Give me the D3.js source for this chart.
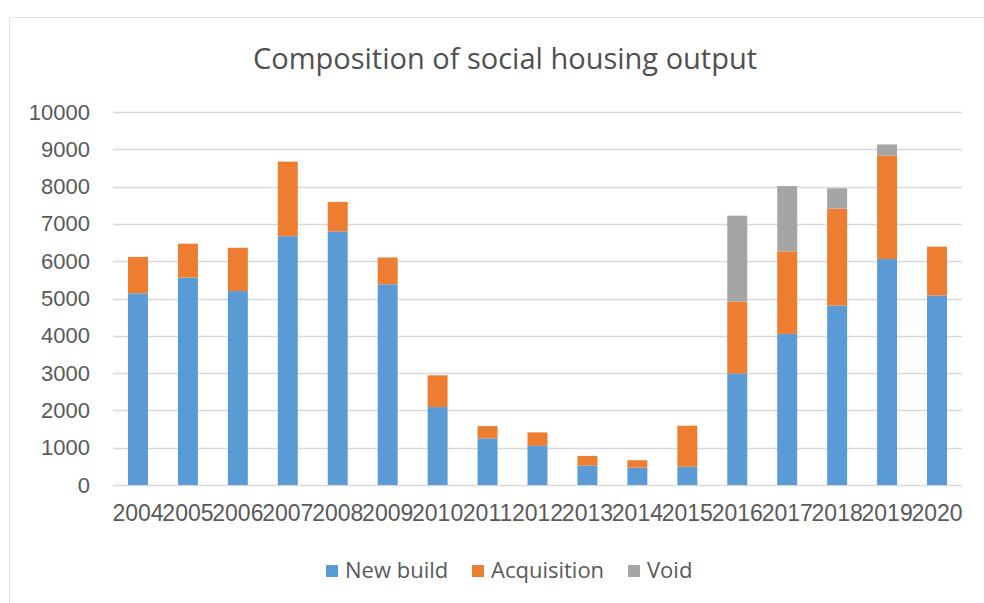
<!doctype html>
<meta charset="utf8">
<style>
  body { margin: 0; background: #fff; }
  svg { display: block; font-family: "Open Sans", sans-serif; }
  .tick text { fill: #595959; }
</style>
<body>
<div id="chart"></div>

<script src="https://cdn.jsdelivr.net/npm/d3@7"></script>
<script>
(function() {

const YEARS = ["2004", "2005", "2006", "2007", "2008", "2009", "2010", "2011", "2012",
  "2013", "2014", "2015", "2016", "2017", "2018", "2019", "2020"];
const NEW_BUILD = [5140, 5560, 5200, 6670, 6800, 5380, 2090, 1250, 1050,
  520, 465, 490, 2990, 4050, 4810, 6060, 5080];
const ACQUISITION = [975, 910, 1160, 2000, 790, 720, 850, 330, 360,
  260, 200, 1100, 1930, 2215, 2600, 2770, 1310];
const VOID = [0, 0, 0, 0, 0, 0, 0, 0, 0,
  0, 0, 0, 2300, 1750, 545, 300, 0];
const SERIES = ["New build", "Acquisition", "Void"];
const Y_TICKS = [0, 1000, 2000, 3000, 4000, 5000, 6000, 7000, 8000, 9000, 10000];
const TITLE = "Composition of social housing output";

const COLORS = {
  "New build": "#5B9BD5",
  "Acquisition": "#ED7D31",
  "Void": "#A5A5A5",
};

const width = 984;
const height = 603;
const plot = {left: 113, right: 962, top: 112, bottom: 485};

const rows = YEARS.map((year, i) => ({
  year,
  "New build": NEW_BUILD[i],
  "Acquisition": ACQUISITION[i],
  "Void": VOID[i],
}));

const stacked = d3.stack().keys(SERIES)(rows);

const x = d3.scaleBand()
  .domain(YEARS)
  .range([plot.left, plot.right])
  .paddingInner(0.6)
  .paddingOuter(0.3);

const y = d3.scaleLinear()
  .domain([0, 10000])
  .range([plot.bottom, plot.top]);

const svg = d3.select("#chart").append("svg")
  .attr("width", width)
  .attr("height", height);

// chart frame
svg.append("rect")
  .attr("x", 9.5)
  .attr("y", 17.5)
  .attr("width", width)
  .attr("height", height)
  .attr("fill", "#fff")
  .attr("stroke", "#e3e3e3");

svg.append("text")
  .attr("x", 505)
  .attr("y", 69)
  .attr("text-anchor", "middle")
  .attr("fill", "#505050")
  .style("font-size", "29px")
  .text(TITLE);

// gridlines
svg.append("g")
  .selectAll("line")
  .data(Y_TICKS)
  .join("line")
    .attr("x1", plot.left)
    .attr("x2", plot.right)
    .attr("y1", d => Math.round(y(d)) + 0.5)
    .attr("y2", d => Math.round(y(d)) + 0.5)
    .attr("stroke", "#d9d9d9")
    .attr("stroke-width", 1.5);

const yAxis = svg.append("g")
  .attr("transform", `translate(${plot.left},0)`)
  .call(d3.axisLeft(y).tickValues(Y_TICKS).tickSize(0).tickPadding(23).tickFormat(d3.format("d")));
yAxis.select(".domain").remove();
yAxis.selectAll("text").style("font-size", "22px");

svg.append("g")
  .selectAll("g")
  .data(stacked)
  .join("g")
    .attr("fill", d => COLORS[d.key])
  .selectAll("rect")
  .data(d => d)
  .join("rect")
    .attr("x", d => x(d.data.year))
    .attr("width", x.bandwidth())
    .attr("y", d => y(d[1]))
    .attr("height", d => y(d[0]) - y(d[1]));

const xAxis = svg.append("g")
  .attr("transform", `translate(0,${plot.bottom})`)
  .call(d3.axisBottom(x).tickSize(0).tickPadding(20));
xAxis.select(".domain").remove();
xAxis.selectAll("text").style("font-size", "23px");

// legend
const legendItems = [
  {key: "New build", x: 326},
  {key: "Acquisition", x: 472},
  {key: "Void", x: 628},
];

const legend = svg.append("g")
  .selectAll("g")
  .data(legendItems)
  .join("g")
    .attr("transform", d => `translate(${d.x},565)`);

legend.append("rect")
  .attr("width", 12)
  .attr("height", 12)
  .attr("fill", d => COLORS[d.key]);

legend.append("text")
  .attr("x", 19)
  .attr("y", 13)
  .attr("fill", "#595959")
  .style("font-size", "22px")
  .text(d => d.key);

})();
</script>
